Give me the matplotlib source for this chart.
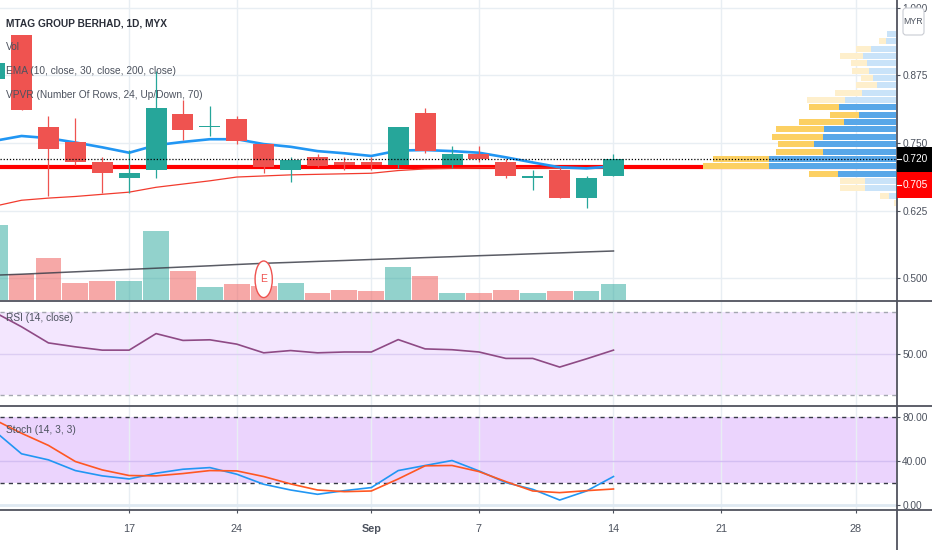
import numpy as np
import pandas as pd
import matplotlib
matplotlib.use("Agg")
import matplotlib.pyplot as plt
import matplotlib.transforms as mtransforms
from matplotlib.patches import Ellipse, FancyBboxPatch, Rectangle
from matplotlib.lines import Line2D

plt.rcParams["font.family"] = ["Liberation Sans", "DejaVu Sans"]

# =========================
# DATA (MTAG, daily, MYX)
# =========================

FIRST_DAY = "2020-08-10"
HOLIDAYS = ["2020-08-20", "2020-08-31", "2020-09-16"]

open_ = [0.8685, 0.950, 0.780, 0.751, 0.714, 0.685, 0.700, 0.804, 0.779, 0.794, 0.749, 0.700,
         0.725, 0.714, 0.714, 0.709, 0.805, 0.709, 0.730, 0.714, 0.686, 0.700, 0.649, 0.689]
high = [0.905, 0.950, 0.800, 0.796, 0.725, 0.737, 0.884, 0.830, 0.819, 0.800, 0.749, 0.725,
        0.730, 0.724, 0.724, 0.780, 0.814, 0.744, 0.744, 0.720, 0.700, 0.705, 0.688, 0.730]
low = [0.862, 0.811, 0.651, 0.709, 0.658, 0.658, 0.685, 0.756, 0.763, 0.749, 0.694, 0.678,
       0.705, 0.700, 0.700, 0.703, 0.731, 0.703, 0.714, 0.685, 0.663, 0.649, 0.629, 0.689]
close = [0.8976, 0.811, 0.739, 0.714, 0.694, 0.695, 0.814, 0.774, 0.781, 0.754, 0.706, 0.719,
         0.707, 0.709, 0.709, 0.780, 0.735, 0.730, 0.720, 0.689, 0.688, 0.649, 0.685, 0.720]

volume = [3750, 1285, 2115, 865, 965, 950, 3450, 1450, 665, 815, 700, 835,
          335, 485, 435, 1665, 1200, 335, 335, 485, 335, 435, 435, 800]
volume_ma = [1240, 1290, 1350, 1410, 1470, 1530, 1590, 1650, 1710, 1775, 1835, 1880,
             1930, 1975, 2025, 2070, 2120, 2165, 2215, 2260, 2310, 2355, 2405, 2450]

ema10 = [0.754, 0.763, 0.759, 0.751, 0.742, 0.732, 0.746, 0.752, 0.757, 0.757, 0.748, 0.743,
         0.735, 0.731, 0.726, 0.736, 0.737, 0.735, 0.732, 0.7235, 0.714, 0.705, 0.703, 0.707]
ema30 = [0.633, 0.644, 0.648, 0.651, 0.655, 0.659, 0.668, 0.674, 0.680, 0.687, 0.689, 0.691,
         0.692, 0.693, 0.694, 0.699, 0.702, 0.703, 0.704, 0.704, 0.704, 0.703, 0.703, 0.704]
ema200_last = 0.705

rsi = [70.0, 63.0, 55.2, 53.3, 51.7, 51.7, 59.7, 56.4, 56.7, 54.6, 50.4, 51.5,
       50.4, 50.8, 50.8, 56.8, 52.3, 51.9, 50.8, 47.7, 47.7, 43.5, 47.5, 51.7]
stoch_k = [67.0, 46.4, 40.9, 31.2, 26.4, 23.6, 28.8, 32.4, 33.9, 27.9, 18.8, 13.6,
           9.7, 13.0, 15.8, 31.2, 35.8, 40.3, 30.9, 20.3, 14.2, 4.5, 12.7, 25.8]
stoch_d = [77.2, 65.0, 54.0, 39.4, 31.8, 26.7, 26.4, 28.5, 31.2, 30.9, 25.8, 19.1,
           13.6, 12.1, 12.7, 23.6, 35.5, 35.8, 30.3, 21.2, 12.7, 11.2, 13.0, 14.5]

# volume profile, top row first
vp_price_high = 0.959
vp_price_low = 0.632
vp_up = [870, 1030, 2500, 3270, 2870, 2670, 2270, 1930, 3430, 5070, 5730, 3670,
         5170, 7170, 7270, 8200, 7330, 12670, 12670, 5770, 3100, 3100, 700, 0]
vp_down = [0, 670, 1500, 2330, 1670, 1700, 1270, 2070, 2670, 3800, 2930, 2930,
           4570, 4830, 5170, 3570, 4670, 5600, 6600, 2930, 2500, 2500, 900, 200]
value_area_rows = list(range(10, 20))

tick_dates = ["2020-08-17", "2020-08-24", "2020-09-01", "2020-09-07",
              "2020-09-14", "2020-09-21", "2020-09-28"]
tick_labels = ["17", "24", "Sep", "7", "14", "21", "28"]
earnings_date = "2020-08-25"

price_ticks = [0.500, 0.625, 0.750, 0.875, 1.000]

# =========================
# STYLE
# =========================

W, H = 932, 550
AXIS_X = 896
GREEN = "#26a69a"
RED = "#ef5350"
TXT = "#4c525e"
GRID = "#e8eef3"
SEP = "#50535e"
LEG_FS = 7.3
AX_FS = 7.3

fig = plt.figure(figsize=(W / 100, H / 100), dpi=100)


def pane(top, bottom, **kw):
    return fig.add_axes([0, 1 - bottom / H, AXIS_X / W, (bottom - top) / H], **kw)


def ftext(xp, yp, s, **kw):
    kw.setdefault("va", "center")
    kw.setdefault("color", TXT)
    kw.setdefault("fontsize", LEG_FS)
    return fig.text(xp / W, 1 - yp / H, s, **kw)


ax_p = pane(0, 300)
ax_v = pane(0, 300, sharex=ax_p)
ax_vp = pane(0, 300, sharey=ax_p)
ax_r = pane(301, 405, sharex=ax_p)
ax_s = pane(406, 509, sharex=ax_p)
ax_p.set_zorder(1)
ax_v.set_zorder(2)
ax_vp.set_zorder(3)
for a in (ax_v, ax_vp):
    a.patch.set_visible(False)
    a.axis("off")

days = pd.bdate_range(FIRST_DAY, "2020-10-09", freq="C", holidays=HOLIDAYS)
x = np.arange(len(close))
tick_x = days.get_indexer(pd.to_datetime(tick_dates))
earn_x = days.get_indexer(pd.to_datetime([earnings_date]))[0]

o = np.array(open_)
c = np.array(close)
colors = np.where(c >= o, GREEN, RED)

# ---- price pane
ax_p.set_xlim(0.2, 33.5)
ax_p.set_ylim(0.4593, 1.0148)
ax_p.set_yticks(price_ticks)
ax_p.set_yticklabels([f"{v:.3f}" for v in price_ticks])
ax_p.grid(True, color=GRID, lw=1)
ax_p.set_axisbelow(True)

ax_p.axhline(ema200_last, color="#ff0000", lw=3, zorder=2)
ax_p.plot(x, ema30, color="#f23b2e", lw=0.9, zorder=2)
ax_p.plot(x, ema10, color="#2196f3", lw=1.9, zorder=2.5)
ax_p.vlines(x, low, high, colors=colors, lw=0.9, zorder=3)
body_lo = np.minimum(o, c)
body_h = np.maximum(np.abs(c - o), 0.003)
ax_p.bar(x, body_h, bottom=body_lo, width=0.78, color=colors, lw=0, zorder=4)

# ---- volume overlay
ax_v.set_ylim(0, 15000)
ax_v.bar(x, volume, width=0.96, color=colors, alpha=0.5, lw=0)
ax_v.plot(x, volume_ma, color="#3d3f4a", lw=1.1, alpha=0.85)
btrans = mtransforms.blended_transform_factory(ax_v.transData, ax_v.transAxes)
ax_v.add_patch(Ellipse((earn_x, 0.069), 0.64, 0.122, transform=btrans,
                       fc="white", ec=RED, lw=1, zorder=5))
ax_v.text(earn_x, 0.069, "E", transform=btrans, color=RED, fontsize=7.5,
          ha="center", va="center", zorder=6)

# ---- volume profile (visible range)
n_rows = len(vp_up)
row_h = (vp_price_high - vp_price_low) / n_rows
centers = vp_price_high - row_h * (np.arange(n_rows) + 0.5)
in_va = np.isin(np.arange(n_rows), value_area_rows)
up_col = np.where(in_va, "#58a7e8", "#c9e3f9")
dn_col = np.where(in_va, "#fcd063", "#feefcc")
ax_vp.set_xlim(AXIS_X * 100, 0)
ax_vp.barh(centers, vp_up, height=row_h * 0.82, left=0, color=up_col, lw=0)
ax_vp.barh(centers, vp_down, height=row_h * 0.82, left=vp_up, color=dn_col, lw=0)
ax_vp.axhline(close[-1], color="black", lw=0.9, ls=(0, (1, 1.5)), zorder=5)

# ---- RSI pane
ax_r.set_ylim(25.16, 75.47)
ax_r.axhspan(30, 70, color="#f3e6fe", lw=0, zorder=0.2)
ax_r.axhline(50, color="#dccdf3", lw=1, zorder=0.6)
for lvl in (70, 30):
    ax_r.axhline(lvl, color="#a4a7b0", lw=1, ls=(0, (3, 3)), zorder=0.7)
ax_r.plot(x, rsi, color="#8e4a85", lw=1.2, zorder=3)
ax_r.set_yticks([50])
ax_r.set_yticklabels(["50.00"])
ax_r.grid(True, axis="x", color=GRID, lw=1)
ax_r.set_axisbelow(True)

# ---- Stoch pane
ax_s.set_ylim(-3.62, 89.7)
ax_s.axhspan(20, 80, color="#ebd4fd", lw=0, zorder=0.2)
ax_s.axhline(40, color="#d3bef2", lw=1, zorder=0.6)
ax_s.axhline(0, color="#dfe9f2", lw=2, zorder=0.6)
for lvl in (80, 20):
    ax_s.axhline(lvl, color="#363a45", lw=1, ls=(0, (3, 3)), zorder=0.7)
ax_s.plot(x, stoch_k, color="#2196f3", lw=1.2, zorder=3)
ax_s.plot(x, stoch_d, color="#ff5722", lw=1.2, zorder=3)
ax_s.set_yticks([0, 40, 80])
ax_s.set_yticklabels(["0.00", "40.00", "80.00"])
ax_s.grid(True, axis="x", color=GRID, lw=1)
ax_s.set_axisbelow(True)

# ---- axes cosmetics
ax_s.set_xticks(tick_x)
ax_s.set_xticklabels(tick_labels)
for lab in ax_s.get_xticklabels():
    if not lab.get_text().isdigit():
        lab.set_fontweight("bold")
for a in (ax_p, ax_r, ax_s):
    for sp in a.spines.values():
        sp.set_visible(False)
    a.yaxis.tick_right()
    a.tick_params(axis="y", length=3, width=0.8, color=TXT, labelcolor=TXT,
                  labelsize=AX_FS, pad=1.5)
    a.tick_params(axis="x", length=3, width=0.8, color=TXT, labelcolor=TXT,
                  labelsize=7.8, pad=8)
for a in (ax_p, ax_r):
    a.tick_params(axis="x", bottom=False, labelbottom=False)

# pane separators and right axis line
for yp in (300.5, 405.5, 509.5):
    fig.add_artist(Line2D([0, 1], [1 - yp / H] * 2, color=SEP, lw=1.3, zorder=8))
fig.add_artist(Line2D([(AXIS_X + 0.5) / W] * 2, [0, 1], color=SEP, lw=1.3, zorder=8))

# last price / EMA200 labels
last_y = ax_p.transData.transform((0, close[-1]))[1]
box_h = 25
ident = mtransforms.IdentityTransform()
fig.add_artist(Rectangle((AXIS_X + 1, last_y - box_h / 2), W - AXIS_X, box_h,
                         transform=ident, fc="black", ec="none", zorder=10))
fig.add_artist(Rectangle((AXIS_X + 1, last_y - box_h / 2 - box_h - 1), W - AXIS_X, box_h + 1,
                         transform=ident, fc="#ff0000", ec="none", zorder=10))
fig.text(903, last_y, f"{close[-1]:.3f}", transform=ident, color="white",
         fontsize=AX_FS, va="center", ha="left", zorder=11)
fig.text(903, last_y - box_h - 0.5, f"{ema200_last:.3f}", transform=ident, color="white",
         fontsize=AX_FS, va="center", ha="left", zorder=11)
for yy in (last_y, last_y - box_h - 0.5):
    fig.add_artist(Line2D([AXIS_X + 1, AXIS_X + 5], [yy, yy], transform=ident,
                          color="white", lw=0.8, zorder=11))

# currency badge
fig.add_artist(FancyBboxPatch((903, H - 35), 21, 27, boxstyle="round,pad=0,rounding_size=3",
                              transform=ident, fc="white", ec="#c9ccd3", lw=0.8, zorder=10))
fig.text(913.5, H - 21.5, "MYR", transform=ident, color=TXT, fontsize=6.3,
         ha="center", va="center", zorder=11)

# legends
ftext(6, 23.5, "MTAG GROUP BERHAD, 1D, MYX", fontweight="bold", color="#2a2e39", zorder=12)
ftext(6, 47, "Vol", zorder=12)
ftext(6, 71.5, "EMA (10, close, 30, close, 200, close)", zorder=12)
ftext(6, 95.5, "VPVR (Number Of Rows, 24, Up/Down, 70)", zorder=12)
ftext(6, 318, "RSI (14, close)", zorder=12)
ftext(6, 430, "Stoch (14, 3, 3)", zorder=12)

fig.savefig("out.png", dpi=100)
